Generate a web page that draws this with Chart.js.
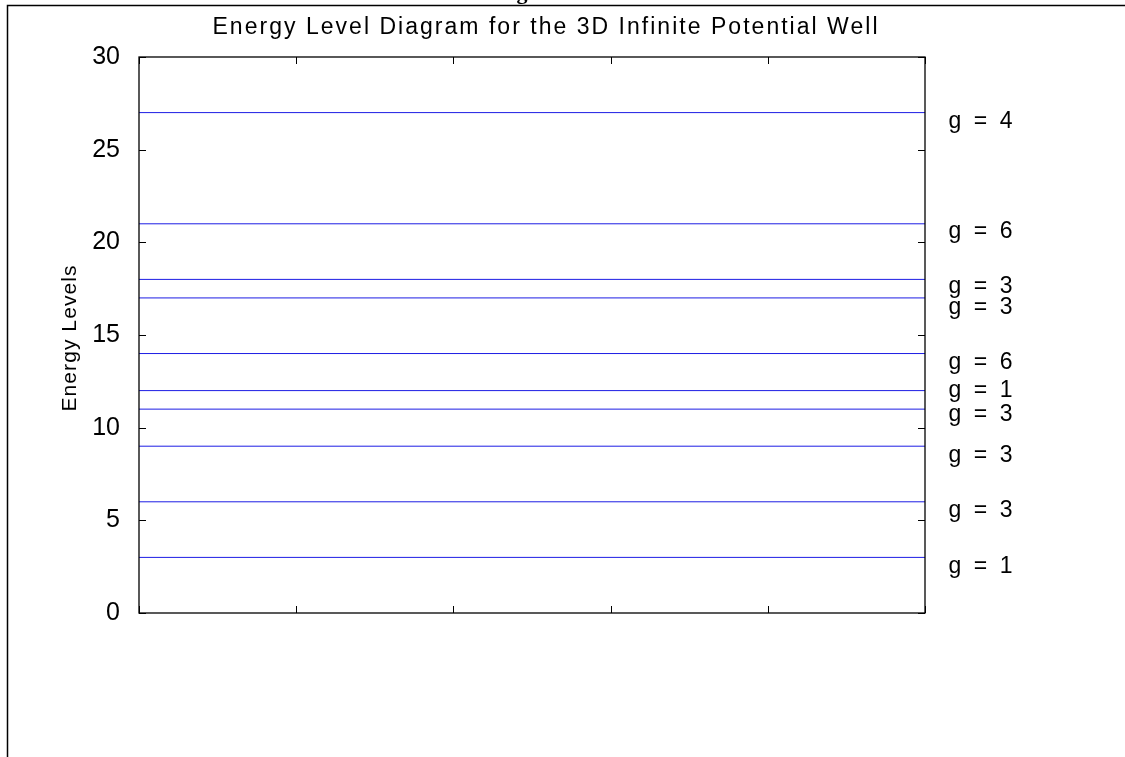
<!DOCTYPE html>
<html>
<head>
<meta charset="utf-8">
<script src="https://cdn.jsdelivr.net/npm/chart.js@4.4.1/dist/chart.umd.min.js"></script>
<style>
  html, body { margin: 0; padding: 0; background: #ffffff; }
  #wrap { width: 1125px; height: 757px; }
</style>
</head>
<body>
<div id="wrap"><canvas id="c" width="1125" height="757" style="width:1125px;height:757px"></canvas></div>
<script>
// Energy levels (in units of E1) of the 3D infinite well and their degeneracies
const energies     = [3, 6, 9, 11, 12, 14, 17, 18, 21, 27];
const degeneracies = [1, 3, 3, 3, 1, 6, 3, 3, 6, 4];
const yTicks = [0, 5, 10, 15, 20, 25, 30];
const xRange = [0, 5];

const chartTitle = 'Energy Level Diagram for the 3D Infinite Potential Well';
const yAxisTitle = 'Energy Levels';

// where each "g = n" annotation sits (energy units), nudged to avoid overlaps
const labelAnchors = [2.5, 5.5, 8.5, 10.7, 12.0, 13.5, 16.5, 17.6, 20.6, 26.5];
const labelX = 5.15;

const FONT = '"Liberation Sans", Arial, sans-serif';
const lineColor = 'rgb(28, 28, 228)';

const datasets = energies.map((e) => ({
  data: [{ x: xRange[0], y: e }, { x: xRange[1], y: e }],
  borderColor: lineColor,
  borderWidth: 1,
  pointRadius: 0,
  fill: false,
}));

function spacedText(ctx, text, x, y, targetWidth) {
  ctx.letterSpacing = '0px';
  const w = ctx.measureText(text).width;
  const n = Math.max(text.length - 1, 1);
  const sp = targetWidth ? (targetWidth - w) / n : 0;
  ctx.letterSpacing = sp + 'px';
  ctx.fillText(text, x, y);
  ctx.letterSpacing = '0px';
}

const decorations = {
  id: 'decorations',
  afterDraw(chart) {
    const ctx = chart.ctx;
    const a = chart.chartArea;
    const xs = chart.scales.x;
    const ys = chart.scales.y;
    ctx.save();

    // axes box
    ctx.strokeStyle = '#000';
    ctx.lineWidth = 1.3;
    ctx.strokeRect(a.left, a.top, a.right - a.left, a.bottom - a.top);

    // inward tick marks
    ctx.lineWidth = 1;
    const tl = 7;
    xs.ticks.forEach((t) => {
      const px = Math.round(xs.getPixelForValue(t.value)) + 0.5;
      ctx.beginPath();
      ctx.moveTo(px, a.bottom); ctx.lineTo(px, a.bottom - tl);
      ctx.moveTo(px, a.top); ctx.lineTo(px, a.top + tl);
      ctx.stroke();
    });
    ys.ticks.forEach((t) => {
      const py = Math.round(ys.getPixelForValue(t.value)) + 0.5;
      ctx.beginPath();
      ctx.moveTo(a.left, py); ctx.lineTo(a.left + tl, py);
      ctx.moveTo(a.right, py); ctx.lineTo(a.right - tl, py);
      ctx.stroke();
    });

    // figure frame
    ctx.lineWidth = 1.5;
    ctx.beginPath();
    ctx.moveTo(7.5, 757); ctx.lineTo(7.5, 5.5); ctx.lineTo(1125, 5.5);
    ctx.stroke();

    // caption glyph clipped at the top edge
    ctx.fillStyle = '#000';
    ctx.font = 'bold 22px "Liberation Serif", serif';
    ctx.textAlign = 'center';
    ctx.textBaseline = 'alphabetic';
    ctx.fillText('g', 522, -1);

    // title
    ctx.font = '23px ' + FONT;
    ctx.textAlign = 'center';
    ctx.textBaseline = 'alphabetic';
    spacedText(ctx, chartTitle, 546, 34, 665);

    // y axis title
    ctx.save();
    ctx.translate(76, 338);
    ctx.rotate(-Math.PI / 2);
    ctx.font = '21px ' + FONT;
    ctx.textAlign = 'center';
    spacedText(ctx, yAxisTitle, 0, 0, 146);
    ctx.restore();

    // degeneracy labels
    ctx.font = '23px ' + FONT;
    ctx.textAlign = 'left';
    ctx.textBaseline = 'middle';
    const lx = xs.getPixelForValue(labelX);
    degeneracies.forEach((g, i) => {
      const py = ys.getPixelForValue(labelAnchors[i]);
      spacedText(ctx, 'g = ' + g, lx, py, 64);
    });

    ctx.restore();
  }
};

new Chart(document.getElementById('c'), {
  type: 'line',
  data: { datasets },
  options: {
    responsive: false,
    animation: false,
    events: [],
    layout: { padding: { left: 0, top: 57, right: 200, bottom: 144 } },
    plugins: { legend: { display: false }, title: { display: false }, tooltip: { enabled: false } },
    scales: {
      x: {
        type: 'linear',
        min: xRange[0], max: xRange[1],
        ticks: { display: false, stepSize: 1 },
        grid: { display: false },
        border: { display: false },
        afterFit(s) { s.height = 0; }
      },
      y: {
        type: 'linear',
        min: yTicks[0], max: yTicks[yTicks.length - 1],
        afterBuildTicks(s) { s.ticks = yTicks.map((v) => ({ value: v })); },
        ticks: { color: '#000', padding: 11, font: { family: FONT, size: 25 } },
        grid: { display: false },
        border: { display: false },
        afterFit(s) { s.width = 139; }
      }
    }
  },
  plugins: [decorations]
});
</script>
</body>
</html>
